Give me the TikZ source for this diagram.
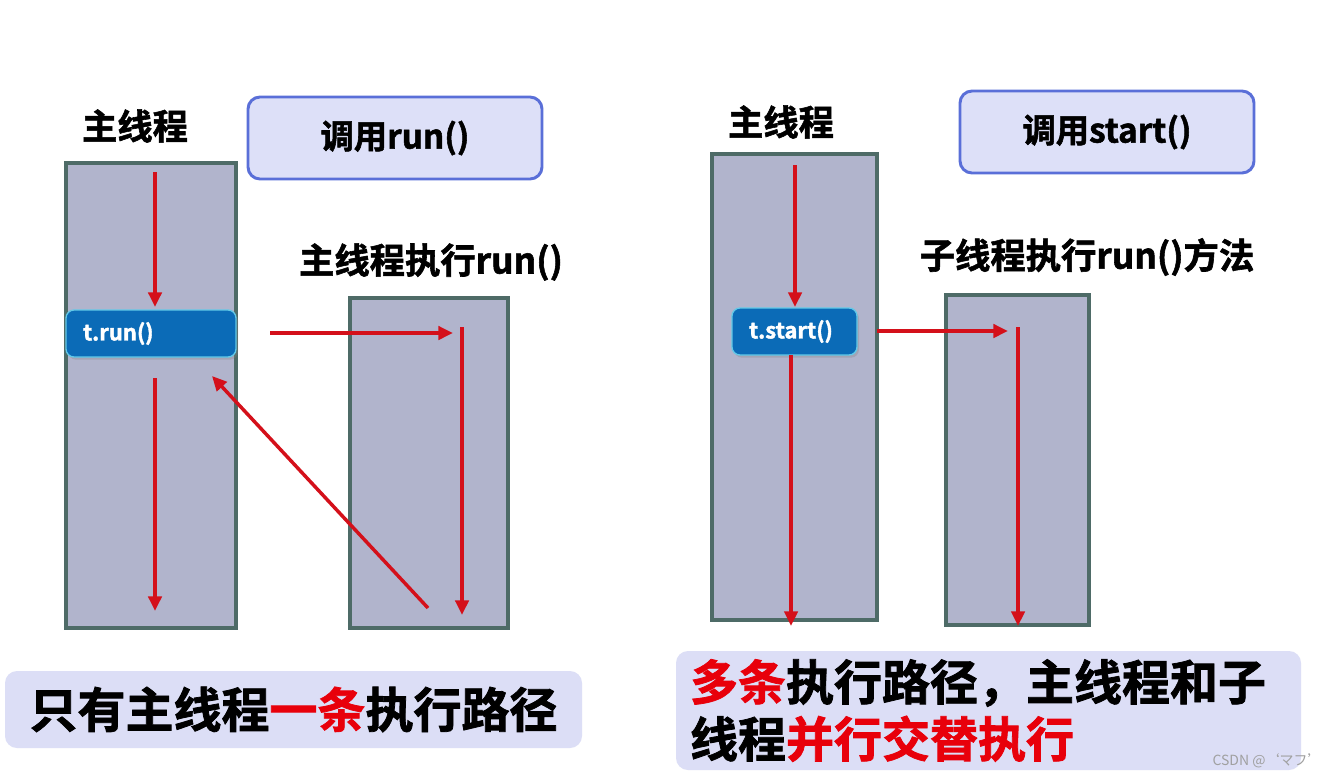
\documentclass[tikz,border=0pt]{standalone}
\usepackage{fontspec}
\setmainfont{Noto Sans CJK SC}[BoldFont={Noto Sans CJK SC Bold}, BoldFeatures={FakeBold=1.6}]
\usetikzlibrary{arrows.meta,shadows}
\definecolor{rectfill}{HTML}{B1B4CC}
\definecolor{rectedge}{HTML}{4E6B67}
\definecolor{callfill}{HTML}{DDE0F8}
\definecolor{calledge}{HTML}{5A6FD8}
\definecolor{botfill}{HTML}{DCDEF6}
\definecolor{tfill}{HTML}{0B6BB7}
\definecolor{tedge}{HTML}{62C9E8}
\definecolor{arrred}{HTML}{D4101A}
\definecolor{txtred}{HTML}{E8000B}
\definecolor{wmgray}{HTML}{A0A0A0}
\tikzset{
  threadbox/.style={draw=rectedge, line width=2.4pt, fill=rectfill, inner sep=0pt,
    drop shadow={shadow xshift=1.5pt, shadow yshift=-1.5pt, opacity=0.25}},
  callbox/.style={draw=calledge, line width=2.2pt, fill=callfill, rounded corners=9pt,
    inner sep=0pt, font=\bfseries\fontsize{25}{30}\selectfont},
  tbox/.style={draw=tedge, line width=1pt, fill=tfill, rounded corners=6pt, text=white,
    inner xsep=12.75pt, inner ysep=0pt, align=left, font=\bfseries\fontsize{16.5}{19}\selectfont,
    drop shadow={shadow xshift=1.5pt, shadow yshift=-2pt, opacity=0.3}},
  heading/.style={font=\bfseries\fontsize{26.5}{31}\selectfont, inner sep=0pt},
  summary/.style={fill=botfill, rounded corners=9pt, inner xsep=10.5pt, inner ysep=0pt,
    align=left, font=\bfseries\fontsize{36}{42.75}\selectfont},
  flow/.style={draw=arrred, line width=2.6pt, -{Triangle[length=11pt,width=10pt]}},
  watermark/.style={text=wmgray, font=\fontsize{10.5}{12}\selectfont, inner sep=0pt}
}
\begin{document}
\begin{tikzpicture}[x=0.75pt,y=-0.75pt]
\useasboundingbox (0,0) rectangle (1337,778);
\fill[white] (0,0) rectangle (1337,778);

% ---------- left: run() ----------
\node[heading] (lmainlbl) at (135,126) {主线程};
\node[callbox, minimum width=220.5pt, minimum height=61.5pt] (lcall) at (395,138) {调用run()};
\node[threadbox, minimum width=127.5pt, minimum height=348.75pt] (lmain) at (151,395.5) {};
\node[tbox, text width=102pt, minimum height=35.25pt] (trun) at (151,333.5) {t.run()};
\node[heading] (lsublbl) at (431,262) {主线程执行run()};
\node[threadbox, minimum width=118.5pt, minimum height=247.5pt] (lsub) at (429,463) {};

\coordinate (a1s) at (155,172);
\coordinate (a1e) at (155,307);
\coordinate (a2s) at (155,378);
\coordinate (a2e) at (155,611);
\coordinate (a3s) at (270,333);
\coordinate (a3e) at (453,333);
\coordinate (a4s) at (462,327);
\coordinate (a4e) at (462,615);
\coordinate (a5s) at (428,608);
\coordinate (a5e) at (212,376);
\draw[flow] (a1s) -- (a1e);
\draw[flow] (a2s) -- (a2e);
\draw[flow] (a3s) -- (a3e);
\draw[flow] (a4s) -- (a4e);
\draw[flow] (a5s) -- (a5e);

\node[summary, minimum width=432.75pt, minimum height=57.75pt, align=center] (lsum) at (293.5,709.5)
  {只有主线程\textcolor{txtred}{一条}执行路径};

% ---------- right: start() ----------
\node[heading] (rmainlbl) at (781,122) {主线程};
\node[callbox, minimum width=220.5pt, minimum height=61.5pt] (rcall) at (1107,132) {调用start()};
\node[threadbox, minimum width=123.75pt, minimum height=349.5pt] (rmain) at (794.5,387) {};
\node[tbox, text width=68.25pt, minimum height=35.25pt] (tstart) at (794.5,331.5) {t.start()};
\node[heading] (rsublbl) at (1087,257) {子线程执行run()方法};
\node[threadbox, minimum width=107.25pt, minimum height=247.5pt] (rsub) at (1017.5,460) {};

\coordinate (b1s) at (795,165);
\coordinate (b1e) at (795,307);
\coordinate (b2s) at (791,355);
\coordinate (b2e) at (791,626);
\coordinate (b3s) at (877,331);
\coordinate (b3e) at (1008,331);
\coordinate (b4s) at (1018,327);
\coordinate (b4e) at (1018,626);
\draw[flow] (b1s) -- (b1e);
\draw[flow] (b2s) -- (b2e);
\draw[flow] (b3s) -- (b3e);
\draw[flow] (b4s) -- (b4e);

\node[summary, text width=447.75pt, minimum height=89.25pt] (rsum) at (988.5,710.5)
  {\textcolor{txtred}{多条}执行路径，主线程和子\\线程\textcolor{txtred}{并行交替执行}};

\node[watermark] (wm) at (1267,761) {CSDN @‘マフ’};
\end{tikzpicture}
\end{document}
